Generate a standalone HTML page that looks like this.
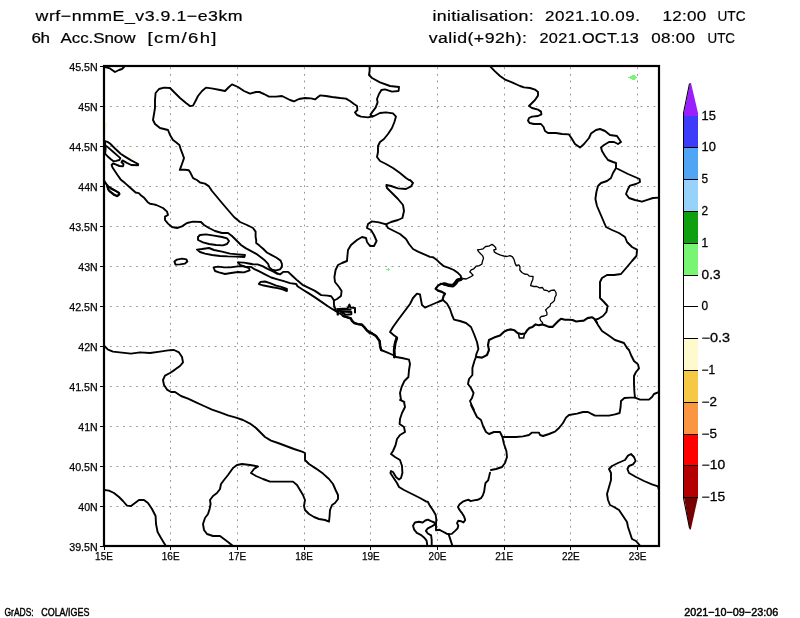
<!DOCTYPE html>
<html><head><meta charset="utf-8"><title>wrf snow</title>
<style>html,body{margin:0;padding:0;background:#fff;}svg{display:block;font-family:"Liberation Sans",sans-serif;}text{filter:grayscale(1);}</style></head><body>
<svg width="800" height="618" viewBox="0 0 800 618">
<rect width="800" height="618" fill="#fff"/>
<path d="M170.5 67.4V546M237.5 67.4V546M304.5 67.4V546M370.5 67.4V546M437.5 67.4V546M504.5 67.4V546M570.5 67.4V546M637.5 67.4V546M103.4 106.5H659M103.4 146.5H659M103.4 186.5H659M103.4 226.5H659M103.4 266.5H659M103.4 306.5H659M103.4 346.5H659M103.4 386.5H659M103.4 426.5H659M103.4 466.5H659M103.4 506.5H659" stroke="#969696" stroke-width="1" stroke-dasharray="1.8 4.75" fill="none"/>
<g fill="#78f573" shape-rendering="crispEdges">
<rect x="632" y="75" width="3" height="5"/><rect x="630" y="76" width="6" height="3"/><rect x="628" y="77" width="9" height="1"/>
<rect x="386" y="269" width="4" height="1"/><rect x="388" y="268" width="1" height="3"/>
</g>
<g fill="#fffacd" shape-rendering="crispEdges">
<rect x="105" y="123" width="2" height="4"/><rect x="105" y="127" width="1" height="4"/>
<rect x="128" y="154" width="4" height="1"/><rect x="130" y="153" width="1" height="3"/>
</g>
<g fill="none" stroke="#000" stroke-width="1.9" stroke-linejoin="round" stroke-linecap="round">
<path d="M105.0 67.0 L110.0 68.4 L115.0 72.0 L119.0 70.0 L122.0 69.0 L124.0 67.0"/>
<path d="M260.0 92.0 L256.0 92.0 L250.0 93.6 L244.0 91.0 L238.0 87.0 L232.0 84.4 L229.0 87.0 L225.0 91.0 L220.0 90.0 L213.0 88.6 L206.0 87.6 L202.0 91.0 L198.0 96.0 L195.0 102.0 L193.0 105.6 L190.0 106.0 L186.0 103.0 L180.0 98.0 L174.0 92.0 L170.0 88.0 L164.0 87.6 L159.0 89.0 L155.6 93.0 L155.0 100.0 L155.0 108.0 L154.0 114.0 L153.0 120.0 L155.0 124.0 L160.0 128.0 L164.0 129.0 L168.0 130.0 L170.0 135.0 L173.0 140.0 L177.0 143.0 L176.9 143.1 L179.4 145.0 L180.6 148.8 L182.5 153.8 L184.0 158.1 L182.5 162.5 L181.2 166.2 L179.8 169.8 L185.0 169.8 L188.8 170.2 L190.6 173.1 L193.1 178.1 L196.9 180.0 L200.0 182.5 L205.0 183.6 L209.0 186.4 L212.0 191.0 L217.0 197.0 L222.0 203.0 L228.0 210.0 L234.0 217.0 L240.0 222.0 L247.0 225.0 L253.0 228.0 L255.6 231.6 L255.6 237.0 L256.2 240.0 L256.2 243.1 L259.4 245.6 L263.1 248.8 L266.9 252.5 L271.2 254.8 L276.2 257.5 L280.6 260.6 L281.9 263.8 L281.9 266.9 L280.0 269.4 L276.2 270.4 L272.5 270.0"/>
<path d="M260.0 92.4 L264.0 94.0 L269.0 96.6 L276.0 96.6 L282.0 96.0 L286.0 98.0 L290.0 100.0 L294.0 101.4 L299.0 99.0 L305.0 98.0 L311.0 98.4 L315.0 99.4 L318.0 97.0 L320.0 95.4 L326.0 96.0 L332.0 97.0 L340.0 98.0 L346.0 98.6 L350.0 101.0 L354.0 104.0 L357.0 106.0 L357.4 110.0 L355.0 112.4 L357.0 115.0 L361.0 116.6 L368.0 117.4 L374.0 116.0 L380.0 113.0 L386.0 112.4 L393.0 113.4 L396.0 116.6 L394.4 122.0 L392.0 128.0 L388.0 134.0 L384.0 139.0 L380.0 142.0 L378.0 146.0 L378.0 152.0 L377.0 157.0 L380.0 161.0 L386.0 164.0 L393.0 168.0 L400.0 173.0 L406.0 178.0 L409.0 180.0 L410.0 180.0 L413.0 183.0 L411.0 186.4 L406.0 189.0 L398.0 188.4 L391.0 186.0 L386.4 185.0 L387.0 188.0 L392.0 193.0 L398.0 199.0 L403.0 205.0 L404.0 211.0 L402.4 218.0 L398.0 220.0 L391.0 222.0 L386.0 224.4 L379.0 222.4 L372.0 221.4 L368.0 224.0 L367.0 228.0 L371.0 230.0 L374.0 235.0 L376.6 241.0 L374.0 246.0 L370.0 246.0 L367.0 242.0 L366.0 238.0 L362.0 237.0 L357.0 240.0 L351.0 245.0 L348.0 250.0 L347.4 256.0 L347.0 261.0 L342.0 263.0 L338.0 265.0 L335.6 270.0 L334.4 277.0 L335.0 282.0 L339.0 287.0 L341.6 291.0 L341.0 296.0 L337.0 299.0 L334.0 300.5"/>
<path d="M369.6 66.6 L369.6 71.0 L369.0 75.0 L372.0 78.0 L380.0 82.4 L390.0 86.0 L399.0 87.0 L398.6 91.0 L392.0 91.6 L385.0 89.4 L381.4 90.0 L379.0 94.0 L377.0 99.0 L377.6 102.4 L375.6 107.6 L372.0 112.4 L370.4 114.8 L372.4 116.4"/>
<path d="M490.4 66.6 L495.0 71.4 L500.0 76.0 L505.0 79.6 L512.0 82.4 L520.0 86.0 L524.0 87.4 L530.0 88.0 L535.0 89.6 L538.0 92.0 L538.0 95.6 L535.0 100.0 L531.0 104.0 L529.0 106.0 L532.0 108.0 L538.0 109.6 L541.0 111.6 L541.4 114.4 L538.0 116.0 L532.0 116.6 L529.0 118.0 L528.0 120.6 L529.6 123.0 L534.0 124.0 L541.0 124.0 L543.6 127.0 L545.0 131.0 L548.0 133.0 L556.0 133.0 L562.0 134.0 L569.0 134.4 L572.0 139.0 L575.0 144.0 L580.0 147.6 L584.0 144.0 L589.0 138.0 L591.0 133.6 L596.0 130.0 L600.0 129.0 L605.0 131.0 L610.0 135.0 L617.0 136.0 L619.0 139.0 L621.0 142.0 L618.0 144.0 L614.0 142.0 L609.0 142.0 L604.0 145.0 L601.0 147.4 L602.0 151.0 L605.0 156.0 L608.0 160.0 L613.0 162.0 L616.0 163.0 L616.0 168.0 L620.0 170.0 L628.0 174.0 L635.0 177.0 L639.6 179.0 L640.0 182.0 L636.0 184.0 L630.0 185.6 L628.0 189.0 L626.0 194.0 L629.0 198.0 L635.0 200.0 L642.0 201.6 L648.0 199.6 L653.0 198.0 L659.0 197.6"/>
<path d="M616.0 168.0 L613.0 173.0 L611.0 178.0 L607.0 181.0 L601.0 183.0 L598.0 186.0 L596.4 192.0 L595.4 199.0 L597.0 206.0 L600.0 213.0 L603.0 220.0 L606.0 227.0 L612.0 230.0 L619.0 233.0 L625.0 237.0 L627.0 242.0 L632.0 247.0 L637.0 249.6 L636.6 255.0 L636.4 256.0 L632.0 261.0 L627.0 267.0 L621.0 274.0 L614.0 275.0 L607.0 275.0 L602.0 278.0 L600.0 282.0 L600.0 290.0 L600.0 298.0 L604.0 302.0 L607.6 306.0 L606.4 312.0 L603.0 316.0 L598.0 319.0 L595.0 319.6 L598.0 325.0 L602.0 331.0 L608.0 335.0 L615.0 340.0 L624.0 343.0 L627.0 348.0 L629.0 350.0 L631.0 355.0 L634.0 361.0 L638.0 364.4 L639.0 368.4 L636.0 372.0 L634.0 376.0 L634.0 384.0 L634.4 392.0 L635.0 397.6 L640.0 399.6 L649.0 399.6 L652.0 397.0 L654.0 394.0 L658.0 392.4 L659.0 392.4"/>
<path d="M386.0 224.4 L388.0 228.0 L394.0 231.0 L400.0 234.0 L406.0 239.0 L409.0 244.0 L413.0 249.0 L418.0 251.6 L430.0 256.9 L433.1 257.2 L436.2 259.4 L440.0 263.1 L443.8 266.2 L448.8 267.8 L453.8 270.0 L458.1 273.1 L460.6 275.6 L461.5 278.5"/>
<path d="M461.5 278.5 L456.9 279.8 L455.0 282.5 L452.5 285.2 L448.8 285.6 L445.0 284.0 L441.2 283.8 L438.1 285.6 L435.6 288.8 L438.1 290.6 L441.9 291.9 L445.0 293.8 L443.5 296.2 L442.5 300.0" stroke-width="2.2"/>
<path d="M444.0 284.0 L446.0 284.3 L449.0 285.3 L453.0 285.8 L455.7 283.3 L457.7 280.3 L461.2 279.1" stroke-width="3.4"/>
<path d="M461.5 278.5 L466.2 279.0 L470.0 277.2 L473.1 275.2 L471.2 273.1 L469.8 271.9 L471.2 269.8 L473.8 268.8 L476.2 266.2 L479.4 265.6 L481.9 264.0 L482.5 261.2 L483.5 258.1 L482.5 255.6 L480.6 253.8 L478.8 251.9 L477.5 249.8 L480.6 249.4 L483.1 248.8 L485.6 246.5 L488.8 246.2 L491.9 244.4 L493.8 245.6 L495.6 247.5 L496.0 249.4 L493.8 250.0 L494.4 252.2 L497.5 253.8 L500.6 255.2 L503.8 256.0 L506.9 256.5 L510.0 255.6 L512.5 256.9 L514.0 259.4 L515.0 263.1 L515.0 263.1 L516.2 265.6 L518.8 264.8 L520.0 266.9 L519.8 270.0 L521.9 272.5 L524.4 274.0 L527.5 274.4 L529.4 276.2 L533.1 276.5 L532.8 279.4 L531.5 282.5 L530.6 285.6 L533.8 286.5 L536.9 286.5 L539.4 287.8 L542.5 287.5 L544.0 290.0 L547.5 290.6 L548.8 291.9 L551.2 290.4 L554.4 290.0 L556.0 292.5 L556.2 295.0 L554.8 297.5 L554.4 300.6 L552.5 302.5 L550.6 303.8 L550.0 306.2 L547.5 308.1 L545.6 310.0 L546.9 312.5 L546.9 315.0 L544.4 316.0 L541.2 316.5 L539.8 318.1 L540.6 320.6 L542.5 322.5 L542.5 324.4" stroke-width="1.3"/>
<path d="M394.4 357.0 L394.0 350.0 L395.0 343.0 L397.0 337.6 L393.6 335.0 L390.0 332.0 L393.0 327.0 L398.0 320.0 L404.0 312.0 L410.0 304.0 L413.0 298.0 L417.0 293.6 L420.0 294.4 L421.0 300.0 L422.0 305.0 L425.0 307.6 L431.0 305.0 L438.0 302.0 L443.0 300.0"/>
<path d="M394.4 357.0 L394.2 350.0 L395.2 343.0 L396.8 338.0" stroke-width="2.8"/>
<path d="M443.0 300.0 L447.0 303.6 L450.0 309.0 L452.0 315.0 L454.0 319.6 L460.0 321.0 L466.0 323.0 L471.0 327.0 L474.0 334.0 L477.0 342.0 L478.4 349.0 L476.4 354.0 L475.6 358.0 L474.4 361.0 L472.4 368.0 L472.4 375.0 L469.0 379.0 L468.0 384.0 L471.0 388.0 L473.6 393.0 L472.0 398.0 L470.0 401.0 L472.0 406.0 L474.0 410.0 L471.0 405.0 L474.0 411.0 L477.0 417.0 L481.0 420.0 L483.0 426.0 L486.0 432.0 L489.0 434.0 L494.0 432.0 L500.0 432.0 L502.4 437.0 L504.0 444.0 L506.4 451.0 L507.0 457.0 L505.0 463.0 L502.0 467.0 L496.0 469.0 L491.0 470.0"/>
<path d="M477.0 357.0 L482.0 357.6 L487.0 355.0 L489.0 350.0 L488.0 345.0 L489.0 340.0 L494.0 337.6 L500.0 335.6 L503.8 331.9 L507.5 330.0 L511.2 329.4 L514.4 330.2 L517.5 333.1 L521.2 334.0 L525.0 333.5 L526.9 330.6 L529.4 328.1 L532.5 326.9 L535.6 324.4 L538.8 325.2 L542.5 324.4 L545.6 325.6 L548.8 326.9 L552.5 326.9 L555.6 323.8 L558.8 320.6 L561.0 318.8 L565.0 319.8 L568.8 319.8 L572.5 320.0 L576.2 321.5 L580.0 321.0 L583.8 320.6 L587.5 318.1 L591.9 317.2 L594.4 318.8 L596.9 322.5" stroke-width="2.1"/>
<path d="M518.6 334.4 L519.4 338.0 L523.6 338.0 L524.4 334.4" stroke-width="1.6"/>
<path d="M635.0 397.6 L630.0 397.6 L624.4 398.0 L621.0 401.0 L620.6 407.0 L619.6 413.0 L615.0 414.4 L609.0 415.6 L602.0 415.6 L595.0 415.6 L591.0 413.6 L588.0 412.0 L583.0 412.0 L577.0 413.6 L569.0 415.0 L566.0 417.6 L563.0 423.0 L559.0 428.0 L555.0 431.6 L549.0 434.0 L543.0 436.0 L540.0 435.0 L539.0 432.6 L532.0 432.6 L529.0 435.0 L523.0 436.4 L516.0 437.0 L509.0 437.0 L503.6 437.0"/>
<path d="M104.4 141.0 L107.5 141.9 L110.0 143.5 L115.0 148.5 L120.6 153.8 L125.0 156.6 L131.2 160.4 L138.1 164.0 L138.1 165.2 L131.2 165.0 L126.9 162.8 L122.5 160.4 L121.5 162.2 L123.5 164.0 L123.1 166.2 L119.4 166.0 L115.6 164.4 L113.1 163.5 L111.6 165.0 L112.5 167.5 L115.0 171.2 L117.5 175.0 L120.6 179.4 L125.0 183.1 L130.0 187.5 L135.6 192.5 L138.8 193.1 L141.2 195.6 L144.4 198.1 L147.5 201.9 L150.0 203.8 L153.8 204.4 L156.2 205.0 L163.0 208.0 L167.0 211.6 L168.0 215.0 L165.0 216.6 L165.0 220.0 L168.0 223.6 L172.0 227.0 L177.0 228.0 L182.0 226.4 L187.0 223.0 L193.0 221.6 L201.0 222.0 L204.0 225.0 L209.0 228.0 L215.0 231.0 L222.0 233.0 L228.0 233.0 L232.0 236.0 L236.0 240.0 L241.0 245.0 L245.6 248.1 L251.2 251.2 L256.2 253.8 L261.2 257.5 L265.0 260.6 L268.1 263.8 L269.4 267.5 L272.5 270.0 L276.2 272.8 L280.0 274.4 L283.1 271.9 L288.1 271.9 L292.5 276.0 L297.5 280.6 L302.5 284.8 L308.8 287.9 L315.0 290.9 L321.2 295.1 L327.5 295.6 L331.2 296.2 L333.8 300.0"/>
<path d="M105.2 145.6 L107.5 146.9 L112.5 151.2 L117.5 155.6 L120.4 158.1 L119.4 160.0 L116.2 160.9 L113.5 161.2 L110.6 159.0 L107.5 156.2 L105.2 153.8"/>
<path d="M105.0 141.9 L105.6 148.8 L105.2 153.1"/>
<path d="M104.6 181.2 L106.2 183.8 L108.1 186.2 L111.2 188.8 L115.0 190.6 L118.8 192.5 L119.4 194.4 L116.9 196.2 L114.4 195.2 L111.2 192.5 L108.8 190.6 L107.8 188.1 L106.9 185.0 L104.6 181.9"/>
<path d="M198.0 237.0 L200.0 235.0 L206.0 234.4 L214.0 235.6 L222.0 237.0 L227.0 238.4 L229.0 241.0 L227.0 244.0 L223.0 245.4 L216.0 245.0 L209.0 244.0 L203.0 242.4 L198.0 240.0 Z"/>
<path d="M197.0 249.6 L202.0 249.0 L209.0 248.0 L214.0 250.0 L222.0 251.6 L230.0 253.6 L238.0 254.4 L245.0 255.0 L244.4 257.0 L236.0 256.6 L228.0 256.4 L220.0 256.0 L212.0 255.0 L205.0 253.6 L200.0 252.0 Z"/>
<path d="M174.4 261.6 L177.0 259.6 L182.0 258.6 L186.4 259.4 L187.4 261.6 L185.0 263.6 L180.0 264.4 L175.6 264.6 Z"/>
<path d="M213.6 267.4 L218.0 266.6 L224.0 267.4 L230.0 267.4 L238.0 266.4 L244.0 266.4 L249.0 268.0 L249.6 270.4 L244.0 272.4 L238.0 272.0 L231.0 273.0 L225.0 274.0 L219.0 272.4 L215.0 271.0 Z"/>
<path d="M107.4 186.0 L111.0 188.0 L116.0 191.0 L119.4 193.6 L117.6 196.0 L114.0 194.4 L110.0 191.6 L108.0 189.0 Z"/>
<path d="M238.0 262.4 L240.0 265.0 L245.0 266.6 L251.2 266.9 L253.8 268.8 L258.8 271.2 L265.0 274.4 L271.2 277.5 L277.5 279.4 L283.8 281.2 L290.0 283.1 L296.2 284.0 L297.5 286.2 L302.5 289.5 L308.8 293.4 L315.0 297.4 L321.2 301.6 L327.5 306.0 L333.8 310.0 L337.5 312.2 L331.8 308.8 L335.5 310.3 L337.8 312.5 L340.8 314.0 L343.8 316.3 L347.5 317.4 L350.5 318.1 L352.0 320.8 L354.3 323.0 L358.0 324.1 L361.8 324.5 L364.0 326.8 L367.0 330.5 L370.0 333.5"/>
<path d="M238.0 262.4 L244.0 262.6 L252.0 264.0 L246.2 263.1 L252.5 264.4 L257.5 264.4 L262.5 266.2 L267.5 268.8 L272.5 271.2 L277.5 273.8"/>
<path d="M258.8 283.8 L260.6 281.9 L265.0 281.5 L270.0 283.1 L276.2 285.6 L281.2 286.9 L286.9 289.0 L286.9 291.0 L282.5 289.4 L277.5 288.1 L272.5 287.2 L267.5 286.2 L262.5 285.2 L259.4 284.4 Z"/>
<path d="M333.8 300.0 L334.0 305.0 L335.0 308.1 L334.0 306.5 L335.9 309.1"/>
<path d="M338.9 309.1 L343.0 308.8 L347.5 308.4 L349.4 304.6 L350.5 307.6 L355.0 307.9 L355.0 312.5" stroke-width="2.0"/>
<path d="M339.3 309.9 L344.5 309.7 L350.5 309.7" stroke-width="2.2"/>
<path d="M340.0 311.4 L345.3 311.8 L351.3 311.9 L351.3 314.2 L346.0 314.8 L342.3 312.9 L340.0 311.4" stroke-width="2.0"/>
<path d="M337.9 309.1 L337.8 314.4" stroke-width="2.4"/>
<path d="M343.0 315.9 L347.5 317.4 L350.9 318.5 L352.0 320.9 L354.4 323.2 L358.0 324.1 L361.8 324.7 L364.0 326.8 L367.0 330.5 L372.0 333.4 L376.0 336.0 L379.6 341.0 L380.2 346.0 L381.2 350.0" stroke-width="2.4"/>
<path d="M372.0 333.4 L376.0 336.0 L379.6 341.0 L380.0 346.0 L381.0 350.0 L387.0 352.4 L393.0 355.0 L396.0 357.0 L402.0 358.0 L409.0 359.6 L410.0 364.0 L409.0 370.0 L408.4 377.0 L404.4 381.0 L401.6 387.0 L400.0 393.0 L401.0 400.0 L404.4 402.0 L400.0 400.0 L404.0 402.0 L405.0 407.0 L402.0 413.0 L400.0 419.0 L399.6 424.0 L404.0 427.0 L405.0 432.0 L400.0 435.0 L397.0 439.0 L395.6 445.0 L393.0 451.0 L391.0 454.0 L395.0 457.0 L400.0 460.0 L402.0 466.0 L402.4 473.0 L401.0 478.0 L399.0 479.6 L396.0 477.0 L393.0 472.0 L391.0 471.0 L390.4 473.0 L393.0 477.0 L397.0 483.0 L399.0 487.0 L404.0 490.0 L412.0 494.0 L420.0 498.0 L426.4 501.6 L427.8 501.7 L429.8 505.6 L433.0 510.2 L435.6 514.7 L436.3 519.2 L436.0 524.4 L436.0 530.2 L439.5 529.8 L442.7 531.5 L446.6 533.7 L448.6 534.1"/>
<path d="M448.6 534.1 L451.8 533.9 L455.1 530.9 L457.6 528.3 L458.3 525.7 L457.0 523.1 L458.3 520.8 L460.9 521.2 L463.5 522.5 L465.2 519.9 L464.1 516.6 L462.2 513.4 L460.2 510.8 L458.9 508.9 L457.9 506.9 L459.6 504.3 L462.8 501.7 L466.1 500.4 L468.7 499.8 L470.6 501.1 L473.8 500.4 L477.7 499.8 L481.0 498.2 L482.9 495.3 L484.2 491.4 L484.8 486.8 L485.5 483.0 L488.1 480.4 L489.1 476.5 L490.0 472.6"/>
<path d="M448.6 534.1 L450.5 539.9 L452.1 544.9"/>
<path d="M427.2 544.9 L426.6 540.6 L424.0 537.4 L420.7 534.8 L416.8 532.8 L414.2 529.6 L413.0 525.7 L414.9 522.5 L418.8 521.8 L422.7 522.5 L425.3 520.5 L427.8 519.6 L431.1 521.2 L434.3 522.5 L435.2 524.4 L431.7 526.3 L427.8 528.3 L425.9 530.9 L427.8 533.5 L431.1 535.4 L431.7 539.9 L431.7 544.9"/>
<path d="M104.4 346.0 L108.0 349.6 L113.0 351.6 L122.0 352.6 L131.0 353.6 L140.0 352.4 L150.0 353.0 L160.0 351.6 L168.0 350.4 L174.0 350.0 L179.0 352.4 L182.0 357.0 L183.0 362.4 L180.0 366.0 L175.0 369.6 L170.0 373.0 L165.0 375.6 L163.0 380.0 L164.0 385.0 L167.0 389.6 L171.0 392.0 L175.0 392.0 L181.0 396.0 L188.0 398.6 L196.0 402.4 L204.0 406.0 L212.0 409.6 L220.0 412.4 L228.0 415.4 L236.0 417.6 L243.0 420.0 L250.0 423.6 L256.0 428.0 L261.0 433.0 L265.0 437.0 L271.0 440.6 L278.0 443.0 L286.0 446.0 L294.0 449.0 L302.0 451.6 L305.0 453.0 L305.0 460.0 L309.0 464.0 L316.0 468.6 L323.0 473.6 L329.0 479.0 L333.0 484.0 L335.6 490.0 L338.0 495.0 L338.0 499.0 L335.0 503.0 L332.0 505.0 L330.0 510.0 L329.6 516.0 L329.0 521.6 L325.0 520.0 L319.0 519.0 L314.0 517.0 L309.0 514.0 L305.0 510.0 L304.0 506.0 L305.0 500.0 L303.0 495.0 L300.0 490.0 L297.0 485.0 L293.0 481.6 L293.0 481.6 L280.0 481.6 L270.0 481.6 L263.0 479.0 L256.0 476.0 L251.0 473.0 L254.0 469.0 L258.0 466.4 L250.0 465.0 L242.0 464.0 L237.0 465.0 L233.0 468.0 L228.0 475.0 L224.0 480.0 L221.0 484.0 L220.0 489.0 L217.0 493.0 L213.0 496.0 L210.0 500.0 L210.6 504.0 L209.6 509.0 L208.0 514.0 L205.0 518.0 L203.0 524.0 L204.0 530.0 L207.0 534.0 L213.0 536.0 L220.0 536.0 L224.0 539.0 L228.0 542.0 L232.4 545.6"/>
<path d="M104.4 490.0 L109.0 490.6 L114.0 493.0 L119.0 497.0 L123.0 501.0 L127.0 505.6 L131.0 506.0 L135.0 503.0 L139.0 500.0 L144.0 500.0 L148.0 503.0 L152.0 509.0 L155.6 516.0 L156.0 524.0 L157.6 532.0 L161.0 538.0 L164.0 543.0 L165.6 545.6"/>
<path d="M640.0 545.6 L636.0 541.0 L632.0 539.0 L630.0 533.0 L628.0 527.0 L627.0 522.0 L623.0 516.0 L619.0 510.0 L614.0 507.0 L610.0 505.0 L608.0 500.0 L607.0 494.0 L609.0 487.0 L611.0 480.0 L611.0 473.0 L609.0 469.0 L612.0 466.0 L618.0 463.0 L625.0 460.0 L628.0 455.6 L631.0 454.0 L634.0 457.0 L635.6 461.0 L633.0 464.4 L629.0 466.0 L627.4 469.0 L629.0 473.0 L636.0 477.0 L644.0 481.0 L652.0 484.4 L658.0 486.4 L659.0 490.0 L659.0 496.0"/>
</g>
<rect x="104" y="66" width="555" height="480" fill="none" stroke="#000" stroke-width="2.2"/>
<path d="M104.5 546v4M170.5 546v4M237.5 546v4M304.5 546v4M370.5 546v4M437.5 546v4M504.5 546v4M570.5 546v4M637.5 546v4M104 66.5h-4M104 106.5h-4M104 146.5h-4M104 186.5h-4M104 226.5h-4M104 266.5h-4M104 306.5h-4M104 346.5h-4M104 386.5h-4M104 426.5h-4M104 466.5h-4M104 506.5h-4M104 546.5h-4" stroke="#000" stroke-width="1" fill="none" shape-rendering="crispEdges"/>
<g font-size="11.3" fill="#000" stroke="#000" stroke-width="0.25">
<text x="97.7" y="70.6" text-anchor="end" textLength="28.5" lengthAdjust="spacingAndGlyphs">45.5N</text>
<text x="97.7" y="110.6" text-anchor="end" textLength="19.4" lengthAdjust="spacingAndGlyphs">45N</text>
<text x="97.7" y="150.6" text-anchor="end" textLength="28.5" lengthAdjust="spacingAndGlyphs">44.5N</text>
<text x="97.7" y="190.6" text-anchor="end" textLength="19.4" lengthAdjust="spacingAndGlyphs">44N</text>
<text x="97.7" y="230.6" text-anchor="end" textLength="28.5" lengthAdjust="spacingAndGlyphs">43.5N</text>
<text x="97.7" y="270.6" text-anchor="end" textLength="19.4" lengthAdjust="spacingAndGlyphs">43N</text>
<text x="97.7" y="310.6" text-anchor="end" textLength="28.5" lengthAdjust="spacingAndGlyphs">42.5N</text>
<text x="97.7" y="350.6" text-anchor="end" textLength="19.4" lengthAdjust="spacingAndGlyphs">42N</text>
<text x="97.7" y="390.6" text-anchor="end" textLength="28.5" lengthAdjust="spacingAndGlyphs">41.5N</text>
<text x="97.7" y="430.6" text-anchor="end" textLength="19.4" lengthAdjust="spacingAndGlyphs">41N</text>
<text x="97.7" y="470.6" text-anchor="end" textLength="28.5" lengthAdjust="spacingAndGlyphs">40.5N</text>
<text x="97.7" y="510.6" text-anchor="end" textLength="19.4" lengthAdjust="spacingAndGlyphs">40N</text>
<text x="97.7" y="550.6" text-anchor="end" textLength="28.5" lengthAdjust="spacingAndGlyphs">39.5N</text>
<text x="104.0" y="560" text-anchor="middle" textLength="17.8" lengthAdjust="spacingAndGlyphs">15E</text>
<text x="170.7" y="560" text-anchor="middle" textLength="17.8" lengthAdjust="spacingAndGlyphs">16E</text>
<text x="237.4" y="560" text-anchor="middle" textLength="17.8" lengthAdjust="spacingAndGlyphs">17E</text>
<text x="304.1" y="560" text-anchor="middle" textLength="17.8" lengthAdjust="spacingAndGlyphs">18E</text>
<text x="370.8" y="560" text-anchor="middle" textLength="17.8" lengthAdjust="spacingAndGlyphs">19E</text>
<text x="437.5" y="560" text-anchor="middle" textLength="17.8" lengthAdjust="spacingAndGlyphs">20E</text>
<text x="504.2" y="560" text-anchor="middle" textLength="17.8" lengthAdjust="spacingAndGlyphs">21E</text>
<text x="570.9" y="560" text-anchor="middle" textLength="17.8" lengthAdjust="spacingAndGlyphs">22E</text>
<text x="637.6" y="560" text-anchor="middle" textLength="17.8" lengthAdjust="spacingAndGlyphs">23E</text>
</g>
<g shape-rendering="crispEdges">
<polygon points="684,116.5 684,113 690,83 691,83 698,113 698,116.5" fill="#9b1eff" shape-rendering="auto"/>
<rect x="684" y="116" width="14" height="31" fill="#3c3cfa"/>
<rect x="684" y="147" width="14" height="32" fill="#50a5f5"/>
<rect x="684" y="179" width="14" height="32" fill="#96d2fa"/>
<rect x="684" y="211" width="14" height="32" fill="#0fa00f"/>
<rect x="684" y="243" width="14" height="32" fill="#78f573"/>
<rect x="684" y="338" width="14" height="32" fill="#fffacd"/>
<rect x="684" y="370" width="14" height="32" fill="#f5c846"/>
<rect x="684" y="402" width="14" height="32" fill="#fa9641"/>
<rect x="684" y="434" width="14" height="31" fill="#ff0000"/>
<rect x="684" y="465" width="14" height="32" fill="#b40000"/>
<polygon points="684,497 698,497 690.8,529.5 689.8,529.5" fill="#780000" shape-rendering="auto"/>
</g>
<path d="M683.5 113V498M683 147.5H698M683 179.5H698M683 211.5H698M683 243.5H698M683 275.5H698M683 306.5H698M683 338.5H698M683 370.5H698M683 402.5H698M683 434.5H698M683 465.5H698M683 497.5H698" stroke="#000" stroke-width="1" fill="none" shape-rendering="crispEdges"/>
<path d="M683.5 113L689.5 83.5M683.5 498L689.6 528.5" stroke="#000" stroke-width="1.1" fill="none"/>
<g font-size="12" fill="#000" stroke="#000" stroke-width="0.3">
<text x="701.6" y="120.3" textLength="14.3" lengthAdjust="spacingAndGlyphs">15</text>
<text x="701.6" y="151.3" textLength="14.3" lengthAdjust="spacingAndGlyphs">10</text>
<text x="701.6" y="183.3" textLength="6.6" lengthAdjust="spacingAndGlyphs">5</text>
<text x="701.6" y="215.3" textLength="6.6" lengthAdjust="spacingAndGlyphs">2</text>
<text x="701.6" y="247.3" textLength="6.6" lengthAdjust="spacingAndGlyphs">1</text>
<text x="701.6" y="279.3" textLength="18.9" lengthAdjust="spacingAndGlyphs">0.3</text>
<text x="701.6" y="310.3" textLength="6.6" lengthAdjust="spacingAndGlyphs">0</text>
<text x="701.6" y="342.3" textLength="28.5" lengthAdjust="spacingAndGlyphs">−0.3</text>
<text x="701.6" y="374.3" textLength="13.5" lengthAdjust="spacingAndGlyphs">−1</text>
<text x="701.6" y="406.3" textLength="15.3" lengthAdjust="spacingAndGlyphs">−2</text>
<text x="701.6" y="438.3" textLength="15.3" lengthAdjust="spacingAndGlyphs">−5</text>
<text x="701.6" y="469.3" textLength="23.5" lengthAdjust="spacingAndGlyphs">−10</text>
<text x="701.6" y="501.3" textLength="23.5" lengthAdjust="spacingAndGlyphs">−15</text>
</g>
<g font-size="14.8" fill="#000" stroke="#000" stroke-width="0.2">
<text transform="translate(35.6 21.2) scale(1.2 1)" textLength="172.5" lengthAdjust="spacing">wrf−nmmE_v3.9.1−e3km</text>
<text transform="translate(31.4 42.6) scale(1.15 1)" textLength="16.2" lengthAdjust="spacing">6h</text>
<text transform="translate(60.5 42.6) scale(1.15 1)" textLength="65.2" lengthAdjust="spacing">Acc.Snow</text>
<text transform="translate(147.5 42.6) scale(1.25 1)" textLength="55.2" lengthAdjust="spacing">[cm/6h]</text>
<text transform="translate(432.5 21.3) scale(1.2 1)" textLength="84.3" lengthAdjust="spacing">initialisation:</text>
<text transform="translate(545 21.3) scale(1.15 1)" textLength="82.6" lengthAdjust="spacing">2021.10.09.</text>
<text transform="translate(662.5 21.3) scale(1.15 1)" textLength="38.0" lengthAdjust="spacing">12:00</text>
<text transform="translate(717.5 21.3) scale(1.0 1)" textLength="28.0" lengthAdjust="spacingAndGlyphs">UTC</text>
<text transform="translate(428.7 42.6) scale(1.2 1)" textLength="81.9" lengthAdjust="spacing">valid(+92h):</text>
<text transform="translate(539.5 42.6) scale(1.1 1)" textLength="90.2" lengthAdjust="spacing">2021.OCT.13</text>
<text transform="translate(651.2 42.6) scale(1.15 1)" textLength="38.0" lengthAdjust="spacing">08:00</text>
<text transform="translate(707.5 42.6) scale(1.0 1)" textLength="27.5" lengthAdjust="spacingAndGlyphs">UTC</text>
</g>
<g font-size="11.2" fill="#000" stroke="#000" stroke-width="0.45">
<text x="4.5" y="616" textLength="29.2" lengthAdjust="spacingAndGlyphs">GrADS:</text>
<text x="41.2" y="616" textLength="48.3" lengthAdjust="spacingAndGlyphs">COLA/IGES</text>
<text x="684.2" y="616" textLength="94" lengthAdjust="spacingAndGlyphs">2021−10−09−23:06</text>
</g>
</svg>
</body></html>
